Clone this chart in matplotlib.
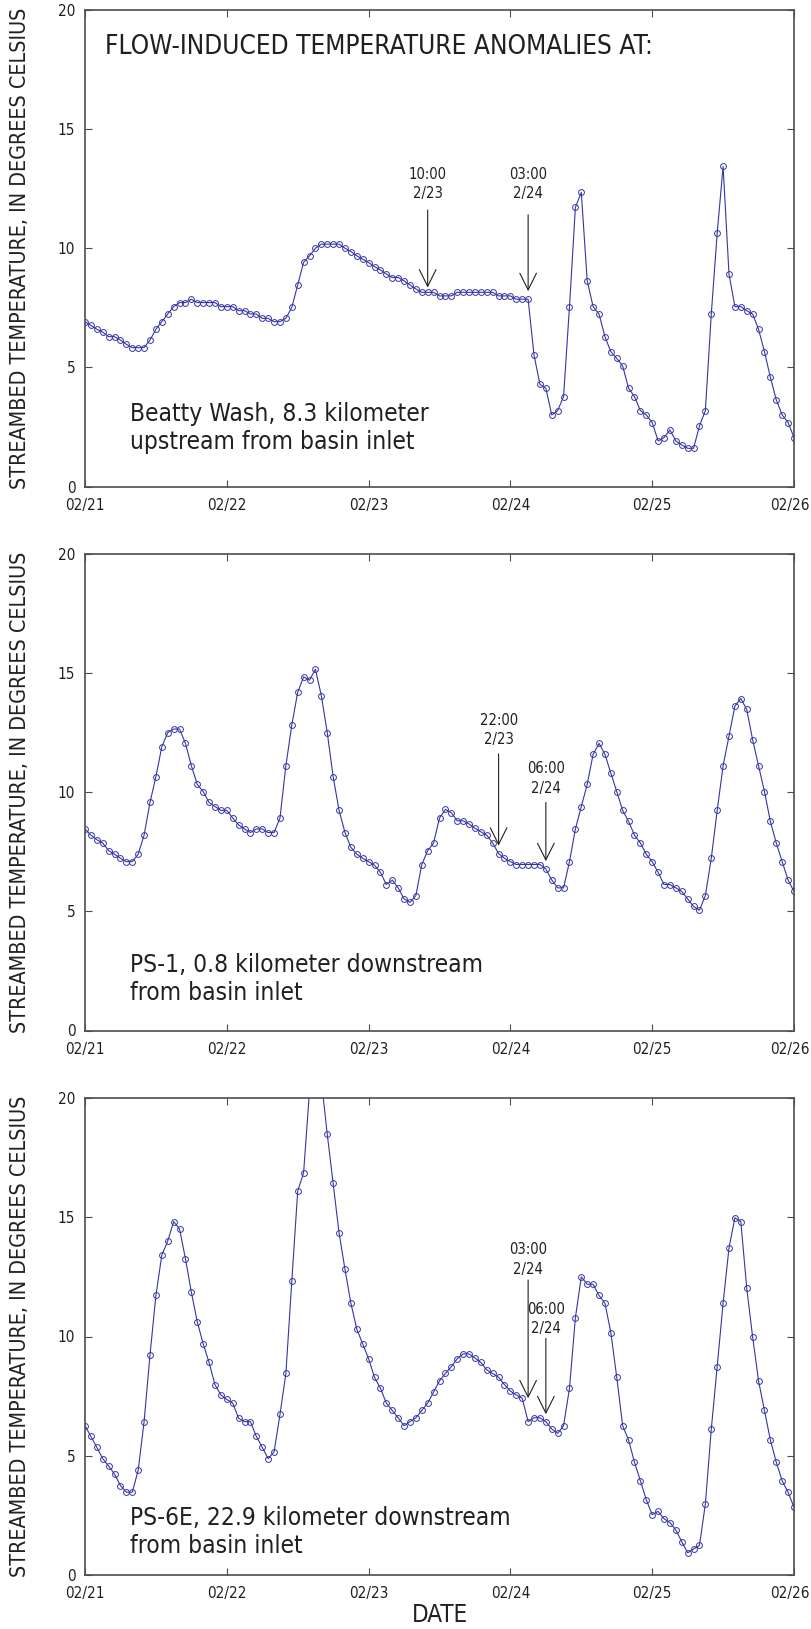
import numpy as np
import matplotlib
matplotlib.use("Agg")
import matplotlib.pyplot as plt
from matplotlib import font_manager as fm
from matplotlib.transforms import ScaledTranslation

# hourly readings, 02/21 00:00 to 02/26 00:00
hours = np.arange(121)
day_ticks = [0, 24, 48, 72, 96, 120]
day_labels = ["02/21", "02/22", "02/23", "02/24", "02/25", "02/26"]

beatty = [6.92, 6.76, 6.60, 6.48, 6.29, 6.29, 6.15, 5.97, 5.83, 5.83, 5.83, 6.15,
          6.60, 6.92, 7.24, 7.55, 7.72, 7.72, 7.86, 7.72, 7.72, 7.72, 7.72, 7.55,
          7.55, 7.55, 7.38, 7.38, 7.24, 7.24, 7.06, 7.06, 6.92, 6.92, 7.06, 7.52,
          8.46, 9.41, 9.68, 10.0, 10.17, 10.17, 10.17, 10.17, 10.0, 9.86, 9.68, 9.54,
          9.40, 9.23, 9.09, 8.92, 8.77, 8.77, 8.63, 8.46, 8.29, 8.15, 8.15, 8.15,
          8.0, 8.0, 8.0, 8.15, 8.15, 8.15, 8.15, 8.15, 8.15, 8.15, 8.0, 8.0,
          8.0, 7.86, 7.86, 7.86, 5.52, 4.29, 4.13, 3.01, 3.19, 3.78, 7.55, 11.71,
          12.34, 8.63, 7.55, 7.24, 6.29, 5.66, 5.38, 5.06, 4.13, 3.78, 3.19, 3.01,
          2.69, 1.92, 2.06, 2.38, 1.92, 1.75, 1.61, 1.61, 2.55, 3.19, 7.24, 10.63,
          13.43, 8.91, 7.55, 7.55, 7.38, 7.24, 6.60, 5.66, 4.59, 3.64, 3.01, 2.69,
          2.06]

ps1 = [8.45, 8.19, 8.0, 7.86, 7.54, 7.39, 7.22, 7.08, 7.08, 7.39, 8.19, 9.56,
       10.64, 11.90, 12.49, 12.64, 12.64, 12.04, 11.10, 10.32, 10.02, 9.56, 9.39, 9.23,
       9.23, 8.91, 8.62, 8.45, 8.30, 8.45, 8.45, 8.30, 8.30, 8.91, 11.10, 12.81,
       14.18, 14.83, 14.69, 15.15, 14.04, 12.49, 10.64, 9.23, 8.30, 7.68, 7.39, 7.22,
       7.08, 6.93, 6.63, 6.12, 6.31, 5.98, 5.52, 5.37, 5.66, 6.96, 7.54, 7.86,
       8.91, 9.27, 9.13, 8.79, 8.79, 8.66, 8.48, 8.33, 8.19, 7.86, 7.42, 7.22,
       7.08, 6.96, 6.96, 6.96, 6.96, 6.96, 6.77, 6.31, 5.98, 5.98, 7.08, 8.45,
       9.39, 10.32, 11.58, 12.04, 11.58, 10.79, 10.02, 9.23, 8.77, 8.19, 7.86, 7.39,
       7.08, 6.63, 6.12, 6.12, 5.98, 5.83, 5.52, 5.20, 5.04, 5.66, 7.22, 9.23,
       11.10, 12.35, 13.60, 13.92, 13.46, 12.19, 11.10, 10.02, 8.77, 7.86, 7.08, 6.31,
       5.83]

ps6e = [6.26, 5.81, 5.35, 4.88, 4.57, 4.23, 3.75, 3.47, 3.47, 4.39, 6.43, 9.22,
        11.72, 13.41, 14.0, 14.82, 14.51, 13.26, 11.86, 10.62, 9.69, 8.91, 7.98, 7.55,
        7.36, 7.21, 6.57, 6.43, 6.43, 5.81, 5.35, 4.88, 5.16, 6.73, 8.45, 12.31,
        16.09, 16.87, 20.3, 21.6, 20.75, 18.48, 16.42, 14.34, 12.82, 11.40, 10.31, 9.69,
        9.07, 8.29, 7.83, 7.21, 6.90, 6.59, 6.26, 6.43, 6.59, 6.90, 7.21, 7.67,
        8.14, 8.45, 8.73, 9.07, 9.27, 9.27, 9.10, 8.91, 8.60, 8.45, 8.29, 7.98,
        7.71, 7.55, 7.41, 6.43, 6.59, 6.59, 6.43, 6.12, 5.94, 6.26, 7.83, 10.79,
        12.50, 12.19, 12.19, 11.72, 11.40, 10.16, 8.29, 6.26, 5.66, 4.73, 3.95, 3.15,
        2.53, 2.67, 2.36, 2.20, 1.89, 1.40, 0.93, 1.09, 1.24, 2.98, 6.12, 8.74,
        11.40, 13.72, 14.98, 14.82, 12.03, 9.98, 8.14, 6.90, 5.66, 4.73, 3.95, 3.47,
        2.84]

series = [beatty, ps1, ps6e]
site_labels = ["Beatty Wash, 8.3 kilometer\nupstream from basin inlet",
               "PS-1, 0.8 kilometer downstream\nfrom basin inlet",
               "PS-6E, 22.9 kilometer downstream\nfrom basin inlet"]
site_label_y = [2.45, 2.15, 1.80]

# arrow notes per panel: (hour, label, label y, arrow start y, arrow tip y)
notes = [
    [(58, "10:00\n2/23", 12.7, 11.6, 8.35), (75, "03:00\n2/24", 12.7, 11.4, 8.2)],
    [(70, "22:00\n2/23", 12.6, 11.6, 7.75), (78, "06:00\n2/24", 10.57, 9.56, 7.1)],
    [(75, "03:00\n2/24", 13.23, 12.37, 7.41), (78, "06:00\n2/24", 10.75, 9.92, 6.74)],
]

# the original uses a condensed face; take a narrow one if the box has it
stretch = "normal"
family = "DejaVu Sans"
names = {f.name for f in fm.fontManager.ttflist}
if "Liberation Sans Narrow" in names:
    family = "Liberation Sans Narrow"
else:
    cond = [f for f in fm.fontManager.ttflist
            if "condensed" in str(f.stretch).lower() or "Condensed" in f.name
            or "Narrow" in f.name]
    regular = [f for f in cond if f.weight in (400, "normal", "regular")]
    if regular or cond:
        family = (regular or cond)[0].name
        stretch = "condensed"
plt.rcParams['font.family'] = [family, 'DejaVu Sans']
plt.rcParams['font.stretch'] = stretch
narrow = family != "DejaVu Sans" or stretch == "condensed"
k = 1.0 if narrow else 0.86   # shrink text if only the wide face is there

blue = "#3535a5"
ink = "#231f20"
spine = "#4d4d4d"

fig = plt.figure(figsize=(8.11, 16.29), dpi=100)
left, width, height = 85 / 811, 709 / 811, 477 / 1629
bottoms = [1 - 486.7 / 1629, 1 - 1030.5 / 1629, 1 - 1575 / 1629]

for i in range(3):
    ax = fig.add_axes([left, bottoms[i], width, height])
    ax.plot(hours, series[i], color=blue, lw=0.8, marker="o", ms=4.2,
            mfc="none", mec=blue, mew=0.7)
    ax.set_xlim(0, 120)
    ax.set_ylim(0, 20)
    ax.set_xticks(day_ticks)
    ax.set_xticklabels(day_labels)
    ax.set_yticks([0, 5, 10, 15, 20])
    ax.tick_params(direction="in", length=5, width=0.8, top=True, right=True,
                   labelsize=11 * k, colors=spine, labelcolor=ink)
    ax.tick_params(axis="x", pad=8)
    ax.tick_params(axis="y", pad=7)
    # keep the last date inside the page edge
    last = ax.get_xticklabels()[-1]
    last.set_transform(last.get_transform() +
                       ScaledTranslation(-3 / 72, 0, fig.dpi_scale_trans))
    for s in ax.spines.values():
        s.set_color(spine)
        s.set_linewidth(1.2)

    ax.text(7.6, site_label_y[i], site_labels[i], fontsize=17.6 * k, color=ink,
            ha="left", va="center", linespacing=1.2)

    for h, lab, ly, y0, y1 in notes[i]:
        ax.text(h, ly, lab, fontsize=10.6 * k, color=ink, ha="center", va="center",
                linespacing=1.35)
        ax.annotate("", xy=(h, y1), xytext=(h, y0),
                    arrowprops=dict(arrowstyle="->,head_length=1.2,head_width=0.6",
                                    lw=0.8, color=ink, shrinkA=0, shrinkB=0))

    if i == 0:
        ax.text(3.4, 18.45, "FLOW-INDUCED TEMPERATURE ANOMALIES AT:", fontsize=18.8 * k,
                color=ink, ha="left", va="center")

    fig.text(20.5 / 811, bottoms[i] + height / 2,
             "STREAMBED TEMPERATURE, IN DEGREES CELSIUS", rotation=90,
             fontsize=15.4 * k, color=ink, ha="center", va="center")

fig.text(439.5 / 811, 1 - 1615 / 1629, "DATE", fontsize=17.4 * k, color=ink,
         ha="center", va="center")

fig.savefig("out.png", dpi=100)
